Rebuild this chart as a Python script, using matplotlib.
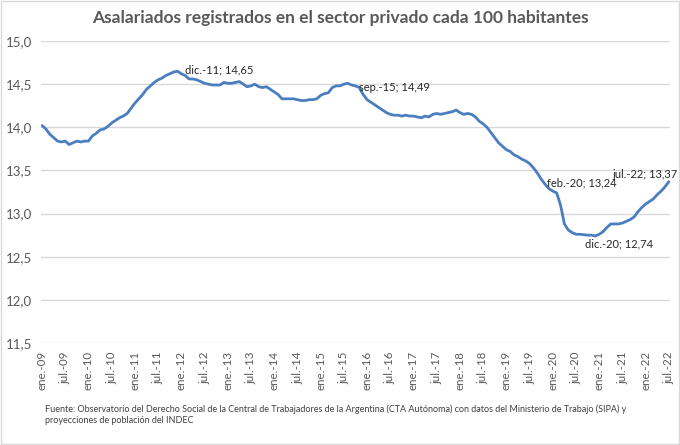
import numpy as np
import matplotlib
matplotlib.use("Agg")
import matplotlib.pyplot as plt
from matplotlib.patches import Rectangle

# monthly series, ene-09 .. jul-22
v2009 = [14.02, 13.98, 13.92, 13.88, 13.84, 13.83, 13.84, 13.80, 13.82, 13.84, 13.83, 13.84]
v2010 = [13.84, 13.90, 13.93, 13.97, 13.98, 14.01, 14.05, 14.08, 14.11, 14.13, 14.16, 14.22]
v2011 = [14.28, 14.33, 14.38, 14.44, 14.48, 14.52, 14.55, 14.57, 14.60, 14.62, 14.64, 14.65]
v2012 = [14.62, 14.60, 14.56, 14.56, 14.55, 14.53, 14.51, 14.50, 14.49, 14.49, 14.49, 14.52]
v2013 = [14.51, 14.51, 14.52, 14.53, 14.50, 14.47, 14.48, 14.50, 14.47, 14.46, 14.47, 14.44]
v2014 = [14.41, 14.38, 14.33, 14.33, 14.33, 14.33, 14.32, 14.31, 14.31, 14.32, 14.32, 14.33]
v2015 = [14.37, 14.39, 14.40, 14.46, 14.48, 14.48, 14.50, 14.51, 14.49, 14.48, 14.46, 14.38]
v2016 = [14.32, 14.29, 14.26, 14.23, 14.20, 14.17, 14.15, 14.14, 14.14, 14.13, 14.14, 14.13]
v2017 = [14.13, 14.12, 14.11, 14.13, 14.12, 14.15, 14.16, 14.15, 14.16, 14.17, 14.18, 14.20]
v2018 = [14.17, 14.15, 14.16, 14.15, 14.12, 14.07, 14.04, 14.00, 13.94, 13.88, 13.82, 13.78]
v2019 = [13.74, 13.72, 13.68, 13.66, 13.63, 13.61, 13.58, 13.53, 13.47, 13.40, 13.34, 13.29]
v2020 = [13.26, 13.24, 13.10, 12.88, 12.81, 12.78, 12.76, 12.76, 12.755, 12.75, 12.75, 12.74]
v2021 = [12.76, 12.79, 12.84, 12.88, 12.88, 12.88, 12.89, 12.91, 12.93, 12.96, 13.02, 13.07]
v2022 = [13.11, 13.14, 13.17, 13.22, 13.26, 13.31, 13.37]

values = (v2009 + v2010 + v2011 + v2012 + v2013 + v2014 + v2015 + v2016 + v2017
          + v2018 + v2019 + v2020 + v2021 + v2022)

tick_labels = ['ene.-09', 'jul.-09', 'ene.-10', 'jul.-10', 'ene.-11', 'jul.-11', 'ene.-12',
               'jul.-12', 'ene.-13', 'jul.-13', 'ene.-14', 'jul.-14', 'ene.-15', 'jul.-15',
               'ene.-16', 'jul.-16', 'ene.-17', 'jul.-17', 'ene.-18', 'jul.-18', 'ene.-19',
               'jul.-19', 'ene.-20', 'jul.-20', 'ene.-21', 'jul.-21', 'ene.-22', 'jul.-22']

# labelled points: (month index, text, offset in pixels, horizontal alignment)
notes = [(35, 'dic.-11; 14,65', (8, 1), 'left'),
         (80, 'sep.-15; 14,49', (7, -2), 'left'),
         (133, 'feb.-20; 13,24', (-10, 10), 'left'),
         (143, 'dic.-20; 12,74', (-10, -8), 'left'),
         (162, 'jul.-22; 13,37', (9, 7), 'right')]

plt.rcParams['font.family'] = ['Lato', 'DejaVu Sans']
grey = '#595959'

fig = plt.figure(figsize=(6.8, 4.45), dpi=100)
ax = fig.add_axes([40.7 / 680, 1 - 343 / 445, (670 - 40.7) / 680, (343 - 41) / 445])

x = np.arange(len(values))
ax.plot(x, values, color='#4a7ebf', lw=2.0, solid_capstyle='round')

yt = np.arange(11.5, 15.01, 0.5)
ax.set_ylim(11.5, 15.0)
ax.set_xlim(-0.35, 162.3)
ax.set_yticks(yt)
ax.set_yticklabels([('%.1f' % t).replace('.', ',') for t in yt], fontsize=9.5, color=grey)
ax.set_xticks(np.arange(0, len(values), 6))
ax.set_xticklabels(tick_labels, rotation=90, fontsize=8.3, color=grey)
ax.tick_params(axis='x', length=0, pad=6)
ax.tick_params(axis='y', length=0, pad=6)
ax.grid(axis='y', color='#d9d9d9', lw=1)
ax.set_axisbelow(True)
for s in ax.spines.values():
    s.set_visible(False)

for i, txt, off, ha in notes:
    ax.annotate(txt, (x[i], values[i]), xytext=off, textcoords='offset pixels',
                ha=ha, va='center', fontsize=8, color='#262626')

fig.text(0.5, 1 - 18 / 445, 'Asalariados registrados en el sector privado cada 100 habitantes',
         ha='center', va='center', fontsize=12.5, fontweight='bold', color=grey)
fig.text(45 / 680, 1 - 415 / 445,
         'Fuente: Observatorio del Derecho Social de la Central de Trabajadores de la Argentina '
         '(CTA Autónoma) con datos del Ministerio de Trabajo (SIPA) y\nproyecciones de población del INDEC',
         ha='left', va='center', fontsize=6.5, color='#404040', linespacing=1.35)

fig.patches.append(Rectangle((0.002, 0.003), 0.996, 0.994, transform=fig.transFigure,
                             fill=False, edgecolor='#d9d9d9', lw=1))

fig.savefig('out.png', dpi=100)
